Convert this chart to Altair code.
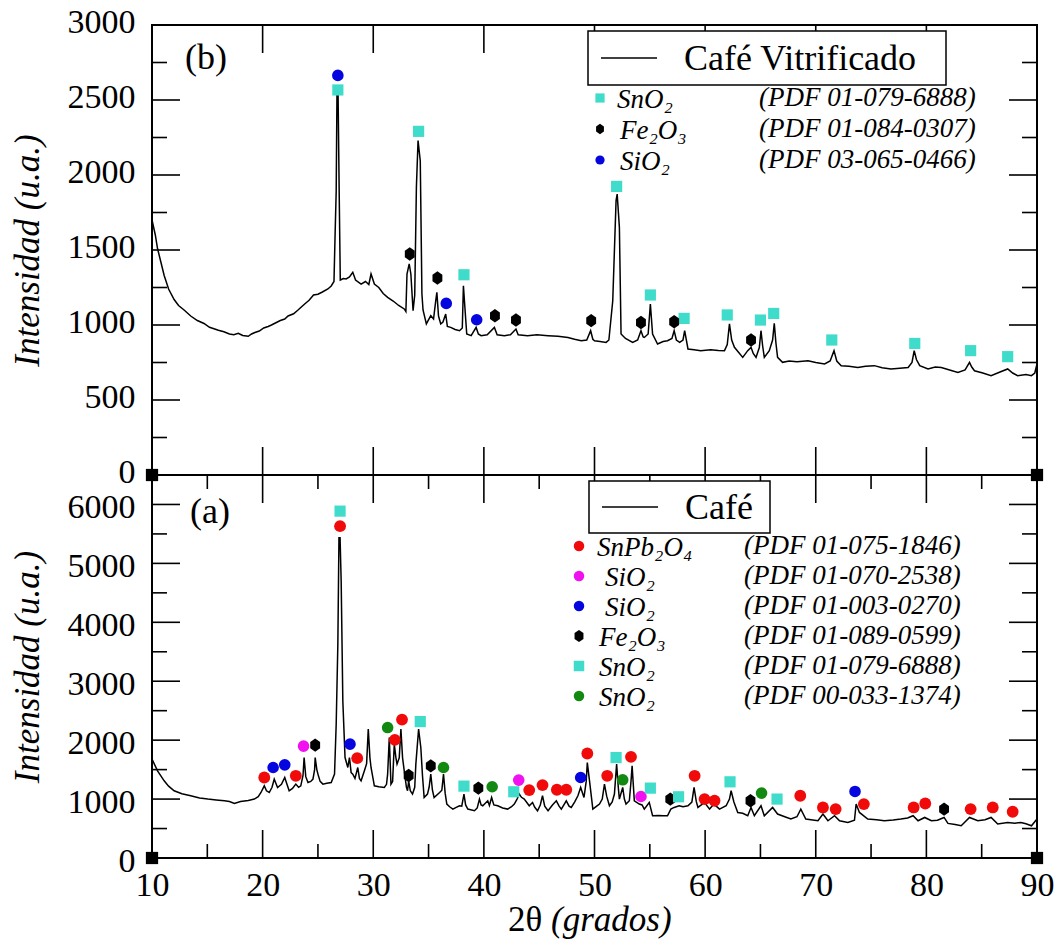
import altair as alt
import pandas as pd

FONT = "Liberation Serif"

# ---------------- panel (b): Café Vitrificado ----------------
b_theta = [10.0, 10.3, 10.5, 10.8, 11.1, 11.5, 12.0, 12.4, 12.9, 13.5, 14.1, 14.7, 15.2, 15.6, 16.0, 16.5,
           17.0, 17.4, 17.8, 18.2, 18.7, 19.0, 19.3, 19.7, 20.1, 20.5, 20.8, 21.2, 21.6, 22.0, 22.3, 22.8,
           23.2, 23.5, 23.8, 24.2, 24.6, 25.0, 25.4, 25.9, 26.2, 26.45, 26.55, 26.65, 26.72, 26.82, 26.92,
           27.02, 27.3, 27.55, 27.85, 28.15, 28.4, 28.9, 29.3, 29.6, 29.8, 30.1, 30.5, 30.9, 31.3, 31.8,
           32.3, 32.8, 32.95, 33.05, 33.25, 33.4, 33.6, 33.75, 33.9, 34.05, 34.25, 34.4, 34.5, 34.8, 35.2,
           35.45, 35.65, 35.75, 35.9, 36.1, 36.3, 36.55, 36.7, 37.0, 37.4, 37.8, 38.05, 38.15, 38.3, 38.45,
           38.85, 39.3, 39.5, 39.75, 40.3, 40.95, 41.2, 41.85, 42.4, 42.9, 43.1, 43.95, 44.8, 45.8, 46.7,
           47.6, 48.2, 48.8, 49.3, 49.65, 49.85, 50.0, 50.5, 51.05, 51.3, 51.65, 51.95, 52.05, 52.25, 52.4,
           52.8, 53.45, 53.9, 54.2, 54.4, 54.5, 54.85, 55.05, 55.25, 55.7, 56.2, 56.6, 57.0, 57.2, 57.4,
           57.7, 58.0, 58.15, 58.45, 59.0, 59.6, 60.5, 61.2, 61.75, 62.0, 62.2, 62.4, 62.65, 63.0, 63.4,
           63.85, 64.15, 64.35, 64.6, 64.9, 65.05, 65.2, 65.35, 65.8, 66.1, 66.25, 66.4, 66.55, 67.0, 67.6,
           68.3, 69.3, 70.0, 70.8, 71.3, 71.65, 71.9, 72.3, 73.0, 73.8, 74.5, 75.3, 76.0, 76.8, 77.6, 78.35,
           78.7, 78.9, 79.1, 79.4, 80.15, 80.8, 81.35, 82.1, 82.85, 83.5, 83.9, 84.1, 84.35, 85.1, 85.85,
           86.6, 87.35, 87.8, 88.25, 89.0, 89.5, 89.8, 90.0]
b_counts = [1700, 1600, 1510, 1420, 1330, 1240, 1170, 1130, 1100, 1060, 1030, 1010, 985, 975, 965, 955,
            940, 935, 945, 930, 925, 940, 950, 960, 980, 990, 1000, 1015, 1030, 1040, 1060, 1075,
            1100, 1120, 1140, 1165, 1200, 1205, 1220, 1240, 1260, 1290, 1600, 1890, 2540, 2540, 1890,
            1300, 1310, 1307, 1320, 1351, 1300, 1273, 1290, 1270, 1340, 1273, 1250, 1210, 1184, 1160,
            1130, 1107, 1090, 1340, 1407, 1340, 1095, 1200, 1917, 2229, 2095, 1207, 1100, 1007, 1062,
            1040, 1162, 1218, 1060, 1007, 1020, 1073, 990, 984, 970, 962, 980, 1262, 1100, 940,
            929, 984, 940, 929, 935, 984, 935, 929, 935, 973, 935, 929, 935, 929, 925,
            917, 905, 895, 900, 962, 905, 895, 890, 884, 900, 1162, 1829, 1873, 1651, 940,
            910, 884, 900, 962, 920, 917, 940, 1140, 940, 873, 890, 895, 910, 962, 900,
            884, 900, 962, 840, 835, 829, 835, 830, 829, 870, 1007, 900, 851, 820, 784,
            829, 851, 810, 784, 850, 962, 860, 784, 829, 900, 1011, 880, 784, 751, 760,
            755, 762, 750, 740, 760, 829, 760, 729, 725, 717, 725, 729, 715, 707, 712, 717,
            750, 829, 770, 729, 707, 720, 717, 700, 684, 700, 751, 720, 695, 680, 662,
            685, 707, 680, 662, 670, 662, 680, 740]

b_sno2_x = [26.8, 34.1, 38.2, 52.0, 55.05, 58.1, 62.0, 65.0, 66.2, 71.45, 78.95, 84.0, 87.35]
b_sno2_y = [2567, 2291, 1335, 1924, 1200, 1044, 1067, 1033, 1077, 900, 877, 829, 789]
b_fe2o3_x = [33.3, 35.8, 41.0, 42.9, 49.7, 54.2, 57.2, 64.15]
b_fe2o3_y = [1473, 1313, 1062, 1033, 1029, 1017, 1022, 900]
b_sio2_x = [26.8, 36.6, 39.35]
b_sio2_y = [2664, 1144, 1035]

# ---------------- panel (a): Café ----------------
a_theta = [10.0, 10.5, 11.1, 11.5, 12.0, 12.7, 13.5, 14.3, 15.05, 15.8, 16.55, 17.0, 17.45, 18.0, 18.7,
           19.25, 19.6, 19.85, 20.15, 20.35, 20.6, 20.85, 21.05, 21.35, 21.7, 22.0, 22.2, 22.4, 22.7,
           23.0, 23.25, 23.45, 23.65, 23.75, 23.9, 24.1, 24.35, 24.55, 24.7, 24.75, 24.9, 25.0, 25.2,
           25.45, 25.8, 26.2, 26.5, 26.65, 26.8, 26.9, 27.0, 27.1, 27.25, 27.45, 27.7, 27.85, 28.0, 28.15,
           28.35, 28.6, 28.75, 28.9, 29.2, 29.4, 29.55, 29.7, 29.8, 30.1, 30.5, 31.0, 31.2, 31.3, 31.45,
           31.6, 31.75, 31.9, 32.05, 32.15, 32.35, 32.5, 32.65, 32.8, 33.0, 33.1, 33.2, 33.35, 33.55,
           33.75, 33.85, 34.1, 34.3, 34.45, 34.6, 34.9, 35.05, 35.2, 35.35, 35.5, 36.0, 36.2, 36.35, 36.5,
           36.65, 36.9, 37.2, 37.5, 37.8, 38.0, 38.2, 38.35, 38.55, 39.15, 39.4, 39.6, 39.75, 39.9, 40.35,
           40.5, 40.7, 40.9, 41.25, 41.7, 42.15, 42.5, 42.75, 43.0, 43.2, 43.4, 43.65, 44.1, 44.4, 44.6,
           44.85, 45.1, 45.3, 45.5, 45.8, 46.2, 46.55, 46.8, 47.0, 47.45, 47.7, 47.9, 48.2, 48.5, 48.75,
           49.05, 49.25, 49.35, 49.55, 49.85, 50.2, 50.45, 50.7, 50.9, 51.1, 51.35, 51.6, 51.8, 52.0, 52.15,
           52.25, 52.55, 52.7, 52.85, 53.15, 53.3, 53.4, 53.6, 54.05, 54.3, 54.5, 54.95, 55.25, 55.8, 56.2,
           56.6, 56.9, 57.2, 57.65, 58.0, 58.45, 58.8, 59.0, 59.2, 59.35, 59.95, 60.4, 60.8, 61.3, 61.9,
           62.2, 62.35, 62.6, 62.95, 63.4, 63.85, 64.15, 64.45, 65.05, 65.35, 66.1, 66.55, 67.2, 67.75,
           68.3, 68.65, 69.1, 70.2, 70.65, 71.1, 71.7, 72.15, 72.9, 73.5, 73.65, 73.95, 74.7, 75.5, 76.2,
           77.0, 77.7, 78.3, 78.8, 79.25, 79.85, 80.45, 81.0, 81.6, 81.95, 82.6, 83.15, 83.9, 84.65, 85.3,
           85.85, 86.45, 87.35, 88.0, 88.55, 89.0, 89.5, 90.0]
a_counts = [1678, 1480, 1310, 1220, 1141, 1090, 1056, 1020, 1000, 985, 971, 960, 925, 960, 975,
            1000, 1040, 1112, 1225, 1140, 1112, 1200, 1339, 1197, 1250, 1366, 1250, 1141, 1180,
            1254, 1200, 1225, 1400, 1705, 1380, 1281, 1300, 1339, 1500, 1705, 1500, 1424, 1300,
            1254, 1270, 1281, 1424, 2271, 3627, 5434, 5434, 4700, 2666, 1705, 1536, 1705, 1450, 1424,
            1350, 1536, 1350, 1310, 1480, 1600, 2187, 1700, 1536, 1225, 1210, 1197, 1250, 1424, 2044,
            1254, 1300, 1932, 1700, 1593, 1700, 2187, 1700, 1480, 1200, 1141, 1310, 1141, 1085,
            1200, 1593, 2187, 1875, 1400, 1027, 1085, 1200, 1424, 1150, 1027, 1112, 1150, 1424, 1100,
            915, 870, 830, 860, 886, 880, 1085, 900, 830, 802, 850, 1000, 900, 886, 971,
            890, 1027, 900, 886, 850, 830, 870, 915, 1000, 1085, 1030, 1000, 886, 943, 860,
            802, 900, 1056, 880, 802, 900, 971, 880, 830, 971, 880, 858, 950, 1056, 1197,
            1027, 1300, 1620, 1310, 830, 880, 915, 1000, 1254, 1050, 886, 950, 1085, 1593, 1200,
            1000, 1197, 1000, 915, 971, 1300, 1564, 971, 915, 900, 830, 943, 717, 720, 715,
            717, 830, 858, 886, 870, 886, 950, 1197, 960, 858, 943, 830, 915, 830, 886,
            1000, 1141, 950, 773, 760, 717, 858, 717, 886, 717, 858, 746, 700, 661,
            700, 830, 661, 632, 746, 632, 717, 632, 603, 640, 915, 773, 661, 650, 632,
            645, 661, 680, 717, 632, 688, 632, 640, 688, 587, 570, 547, 688, 632, 650,
            688, 576, 603, 590, 603, 580, 547, 661]

a_snpb2o4_x = [20.15, 23.0, 27.0, 28.55, 31.95, 32.6, 44.1, 45.3, 46.6, 47.45, 49.35, 51.15, 53.3,
               59.05, 59.95, 60.85, 68.6, 70.65, 71.8, 74.35, 78.85, 79.9, 84.0, 86.0, 87.8]
a_snpb2o4_y = [1366, 1395, 5632, 1695, 2005, 2349, 1153, 1237, 1158, 1158, 1773, 1395, 1717,
               1395, 1000, 971, 1056, 858, 830, 915, 858, 925, 830, 858, 785]
a_sio2m_x = [23.7, 43.15, 54.2]
a_sio2m_y = [1898, 1322, 1044]
a_sio2b_x = [20.95, 22.0, 27.9, 48.75, 73.55]
a_sio2b_y = [1536, 1581, 1932, 1366, 1129]
a_fe2o3_x = [24.75, 33.2, 35.2, 39.5, 56.85, 64.1, 81.6]
a_fe2o3_y = [1915, 1400, 1564, 1186, 1000, 971, 830]
a_sno2_x = [27.0, 34.25, 38.2, 42.7, 51.95, 55.05, 57.6, 62.25, 66.5]
a_sno2_y = [5887, 2315, 1220, 1124, 1705, 1186, 1039, 1293, 1000]
a_sno2g_x = [31.3, 36.35, 40.75, 52.55, 65.1]
a_sno2g_y = [2214, 1536, 1209, 1327, 1102]

# ---------------- ticks / labels ----------------
x_label_values = [10, 20, 30, 40, 50, 60, 70, 80, 90]
x_major = [20, 30, 40, 50, 60, 70, 80]
a_x_minor = [15, 25, 35, 45, 55, 65, 75, 85]
b_y_major = [0, 500, 1000, 1500, 2000, 2500, 3000]
b_y_minor = [250, 750, 1250, 1750, 2250, 2750]
a_y_major = [0, 1000, 2000, 3000, 4000, 5000, 6000]
a_y_minor = [500, 1500, 2500, 3500, 4500, 5500, 6500]
corner_x = [10, 90]
corner_y = [0, 0]

# ---------------- legend text ----------------
b_box_label = "Café Vitrificado"
a_box_label = "Café"
b_leg_names = ["SnO₂", "Fe₂O₃", "SiO₂"]
b_leg_codes = ["(PDF 01-079-6888)", "(PDF 01-084-0307)", "(PDF 03-065-0466)"]
b_leg_keys = ["SnO2", "Fe2O3", "SiO2b"]
a_leg_names = ["SnPb₂O₄", "SiO₂", "SiO₂", "Fe₂O₃", "SnO₂", "SnO₂"]
a_leg_codes = ["(PDF 01-075-1846)", "(PDF 01-070-2538)", "(PDF 01-003-0270)",
               "(PDF 01-089-0599)", "(PDF 01-079-6888)", "(PDF 00-033-1374)"]
a_leg_keys = ["SnPb2O4", "SiO2m", "SiO2b", "Fe2O3", "SnO2", "SnO2g"]

HEX = "M0,-1.15L0.85,-0.55L0.85,0.55L0,1.15L-0.85,0.55L-0.85,-0.55Z"
STYLE = {
    "SnO2": ("square", "#3FDCCB", 125),
    "Fe2O3": (HEX, "#000000", 135),
    "SiO2b": ("circle", "#0505E0", 135),
    "SnPb2O4": ("circle", "#F00A0A", 140),
    "SiO2m": ("circle", "#F010F0", 135),
    "SnO2g": ("circle", "#128A12", 135),
}

W = 885
H_B = 450
H_A = 383
one = pd.DataFrame({"k": [0]})


def panel(tx, ty, markers, ymax, y_major, y_minor, x_minor, H, bottom, box, label, leg, lab_off):
    xs = alt.Scale(domain=[10, 90], nice=False, zero=False)
    ys = alt.Scale(domain=[0, ymax], nice=False)
    if bottom:
        xax = alt.Axis(values=x_label_values, format="d", ticks=False, domain=False, grid=False,
                       labelFont=FONT, labelFontSize=34, labelPadding=10, labelFlush=False,
                       labelColor="black", title=None)
    else:
        xax = None
    yax = alt.Axis(values=y_major, format="d", ticks=False, domain=False, grid=False,
                   labelFont=FONT, labelFontSize=34, labelPadding=17, labelColor="black",
                   labelOverlap=False, labelFlush=False, labelOffset=lab_off,
                   title="Intensidad (u.a.)", titleFont=FONT, titleFontSize=35,
                   titleFontStyle="italic", titleFontWeight="normal", titleColor="black",
                   titlePadding=22)

    def X():
        return alt.X("x:Q", scale=xs, axis=xax)

    def Y():
        return alt.Y("y:Q", scale=ys, axis=yax)

    layers = []
    rule = dict(color="black", strokeWidth=1.6)
    ymaj = pd.DataFrame({"y": y_major})
    ymin = pd.DataFrame({"y": y_minor})
    xmaj = pd.DataFrame({"x": x_major})
    for df, ln in ((ymaj, 28), (ymin, 15)):
        layers.append(alt.Chart(df).mark_rule(**rule).encode(y=Y(), x=alt.value(0), x2=alt.value(ln)))
        layers.append(alt.Chart(df).mark_rule(**rule).encode(y=Y(), x=alt.value(W), x2=alt.value(W - ln)))
    xsets = [(xmaj, 28)]
    if x_minor:
        xsets.append((pd.DataFrame({"x": x_minor}), 14))
    for df, ln in xsets:
        layers.append(alt.Chart(df).mark_rule(**rule).encode(x=X(), y=alt.value(0), y2=alt.value(ln)))
        layers.append(alt.Chart(df).mark_rule(**rule).encode(x=X(), y=alt.value(H), y2=alt.value(H - ln)))

    curve = pd.DataFrame({"x": tx, "y": ty})
    layers.append(alt.Chart(curve).mark_line(color="black", strokeWidth=1.5).encode(x=X(), y=Y()))

    for key, mx, my in markers:
        shape, color, size = STYLE[key]
        df = pd.DataFrame({"x": mx, "y": my})
        layers.append(alt.Chart(df).mark_point(shape=shape, filled=True, color=color, size=size,
                                               opacity=1, strokeWidth=0).encode(x=X(), y=Y()))

    corners = pd.DataFrame({"x": corner_x, "y": corner_y})
    layers.append(alt.Chart(corners).mark_point(shape="square", filled=True, color="black", size=150,
                                                opacity=1).encode(x=X(), y=Y()))

    # legend box with line sample
    bx0, bx1, by0, by1, box_text = box
    layers.append(alt.Chart(one).mark_rect(fill="white", stroke="black", strokeWidth=1.5).encode(
        x=alt.value(bx0), x2=alt.value(bx1), y=alt.value(by0), y2=alt.value(by1)))
    ly = (by0 + by1) / 2
    layers.append(alt.Chart(one).mark_rule(color="black", strokeWidth=1.5).encode(
        x=alt.value(bx0 + 13), x2=alt.value(bx0 + 69), y=alt.value(ly)))
    layers.append(alt.Chart(one).mark_text(text=box_text, font=FONT, fontSize=36, align="left",
                                           baseline="middle", color="black").encode(
        x=alt.value(bx0 + 96), y=alt.value(ly + 1)))

    # legend entries
    keys, names, codes, mx0, y0, dy, name_x, code_x, msize, fsize = leg
    for i, (k, nm, cd) in enumerate(zip(keys, names, codes)):
        shape, color, _ = STYLE[k]
        yy = y0 + i * dy
        layers.append(alt.Chart(one).mark_point(shape=shape, filled=True, color=color, size=msize,
                                                opacity=1, strokeWidth=0).encode(
            x=alt.value(mx0), y=alt.value(yy)))
        layers.append(alt.Chart(one).mark_text(text=nm, font=FONT, fontSize=fsize, fontStyle="italic",
                                               align="left", baseline="middle", color="black").encode(
            x=alt.value(name_x[i]), y=alt.value(yy + 2)))
        layers.append(alt.Chart(one).mark_text(text=cd, font=FONT, fontSize=fsize, fontStyle="italic",
                                               align="left", baseline="middle", color="black").encode(
            x=alt.value(code_x), y=alt.value(yy)))

    # panel label
    lx, lyy = label[1], label[2]
    layers.append(alt.Chart(one).mark_text(text=label[0], font=FONT, fontSize=36, align="left",
                                           baseline="middle", color="black").encode(
        x=alt.value(lx), y=alt.value(lyy)))

    if bottom:
        layers.append(alt.Chart(one).mark_text(text="2θ", font=FONT, fontSize=35, align="left",
                                               baseline="middle", color="black").encode(
            x=alt.value(356), y=alt.value(H + 62)))
        layers.append(alt.Chart(one).mark_text(text="(grados)", font=FONT, fontSize=35, fontStyle="italic",
                                               align="left", baseline="middle", color="black").encode(
            x=alt.value(399), y=alt.value(H + 62)))

    return alt.layer(*layers).properties(width=W, height=H)


top = panel(
    b_theta, b_counts,
    [("SnO2", b_sno2_x, b_sno2_y), ("Fe2O3", b_fe2o3_x, b_fe2o3_y), ("SiO2b", b_sio2_x, b_sio2_y)],
    3000, b_y_major, b_y_minor, None, H_B, False,
    (436, 794, 6, 60, b_box_label), ("(b)", 33, 33),
    (b_leg_keys, b_leg_names, b_leg_codes, 448, 73, 31, [465, 468, 468], 607, 85, 27),
    -3,
)
bot = panel(
    a_theta, a_counts,
    [("SnPb2O4", a_snpb2o4_x, a_snpb2o4_y), ("SiO2m", a_sio2m_x, a_sio2m_y), ("SiO2b", a_sio2b_x, a_sio2b_y),
     ("Fe2O3", a_fe2o3_x, a_fe2o3_y), ("SnO2", a_sno2_x, a_sno2_y), ("SnO2g", a_sno2g_x, a_sno2g_y)],
    6500, a_y_major, a_y_minor, a_x_minor, H_A, True,
    (437, 618, 6, 58, a_box_label), ("(a)", 38, 37),
    (a_leg_keys, a_leg_names, a_leg_codes, 427, 71, 30, [445, 453, 453, 447, 447, 447], 592, 110, 27),
    3,
)

chart = alt.vconcat(top, bot, spacing=0, bounds="flush").properties(
    background="white",
    padding={"left": 9, "top": 4, "right": 4, "bottom": 2},
).configure(font=FONT).configure_view(stroke="black", strokeWidth=2).configure_axis(
    labelFont=FONT, titleFont=FONT)

chart.save("out.html", embed_options={"renderer": "svg", "actions": False})
